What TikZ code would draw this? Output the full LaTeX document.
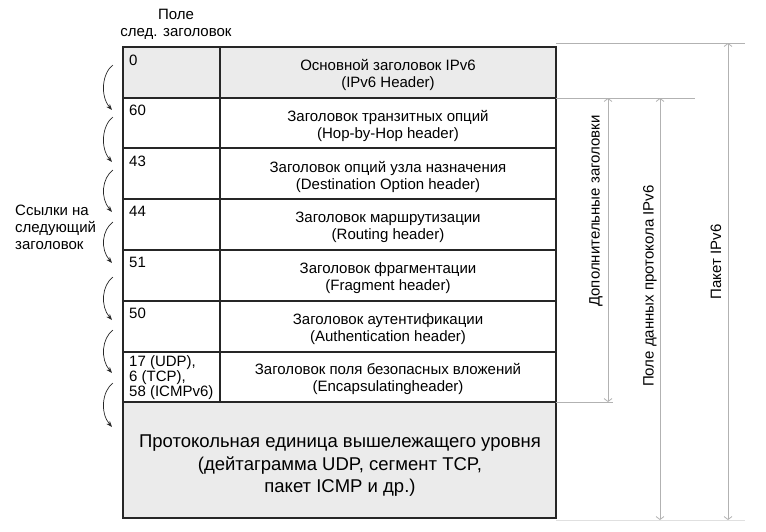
\documentclass[tikz,border=0pt]{standalone}
\usepackage{fontspec}
\setmainfont{Liberation Sans}
\usetikzlibrary{arrows.meta}
\begin{document}
\begin{tikzpicture}[x=1pt,y=-1pt,
  frame/.style={draw=black!85, line width=1.3pt},
  shaded/.style={fill=black!8},
  celltext/.style={align=center, font=\fontsize{15}{17}\selectfont, inner sep=0},
  bigtext/.style={align=center, font=\fontsize{18.5}{22.5}\selectfont, inner sep=0},
  numtext/.style={anchor=north west, align=left, font=\fontsize{15}{13.5}\selectfont, inner sep=0},
  sidetext/.style={align=left, font=\fontsize{15}{17}\selectfont, inner sep=0},
  vtext/.style={rotate=90, font=\fontsize{15}{17}\selectfont, inner sep=0},
  link/.style={line width=0.7pt, black!85, -{Stealth[length=6pt,width=4.5pt]}},
  dim/.style={draw=black!30, line width=0.8pt},
  dimarrow/.style={dim, {Straight Barb[length=3pt,width=8pt]}-{Straight Barb[length=3pt,width=8pt]}}
]
\useasboundingbox (0,0) rectangle (766,531);

% shaded cells: base header and upper-layer unit
\path[shaded] (123,47) rectangle (556,98);
\path[shaded] (123,402) rectangle (556,518);

% table grid
\draw[frame] (123,47) rectangle (556,518);
\foreach \y in {98,148,199,250,301,352,402}
  \draw[frame] (123,\y) -- (556,\y);
\draw[frame] (220,47) -- (220,402);

% column title
\node[celltext] (title) at (176,24) {Поле\\след. заголовок};

% next-header values
\node[numtext] (v0) at (129,54.5) {0};
\node[numtext] (v1) at (129,105) {60};
\node[numtext] (v2) at (129,155.5) {43};
\node[numtext] (v3) at (129,206) {44};
\node[numtext] (v4) at (129,257) {51};
\node[numtext] (v5) at (129,308) {50};
\node[numtext] (v6) at (129,355.5) {17 (UDP),\\6 (TCP),\\58 (ICMPv6)};

% header names
\node[celltext] (h0) at (388,75) {Основной заголовок IPv6\\(IPv6 Header)};
\node[celltext] (h1) at (388,126) {Заголовок транзитных опций\\(Hop-by-Hop header)};
\node[celltext] (h2) at (388,176.5) {Заголовок опций узла назначения\\(Destination Option header)};
\node[celltext] (h3) at (388,227.5) {Заголовок маршрутизации\\(Routing header)};
\node[celltext] (h4) at (388,278.5) {Заголовок фрагментации\\(Fragment header)};
\node[celltext] (h5) at (388,329.5) {Заголовок аутентификации\\(Authentication header)};
\node[celltext] (h6) at (388,379) {Заголовок поля безопасных вложений\\(Encapsulatingheader)};
\node[bigtext] (pdu) at (340,466) {Протокольная единица вышележащего уровня\\(дейтаграмма UDP, сегмент TCP,\\пакет ICMP и др.)};

% links to the next header
\node[sidetext, anchor=north west] (links) at (15,204.5) {Ссылки на\\следующий\\заголовок};
\foreach \i/\ya/\yb in {1/65/110, 2/117/162, 3/170/212, 4/222/263, 5/277/320, 6/330/373, 7/383/427} {
  \coordinate (s\i) at (113,\ya);
  \coordinate (e\i) at (112,\yb);
  \draw[link] (s\i) .. controls (102,\ya+8) and (100,\yb-14) .. (e\i);
}

% extents on the right
\coordinate (pk-t) at (728,43);
\coordinate (pk-b) at (728,520);
\coordinate (pd-t) at (660,98);
\coordinate (pd-b) at (660,520);
\coordinate (ex-t) at (608,98);
\coordinate (ex-b) at (608,402);
\draw[dim] (556,43) -- (745,43);
\draw[dim] (556,98) -- (695,98);
\draw[dim] (556,402) -- (613,402);
\draw[dim, draw=black!12] (556,520) -- (745,520);
\draw[dimarrow] (ex-t) -- (ex-b);
\draw[dimarrow] (pd-t) -- (pd-b);
\draw[dimarrow] (pk-t) -- (pk-b);
\node[vtext] (ex) at (596,211) {Дополнительные заголовки};
\node[vtext] (pd) at (650,286) {Поле данных протокола IPv6};
\node[vtext] (pk) at (716,262) {Пакет IPv6};
\end{tikzpicture}
\end{document}
